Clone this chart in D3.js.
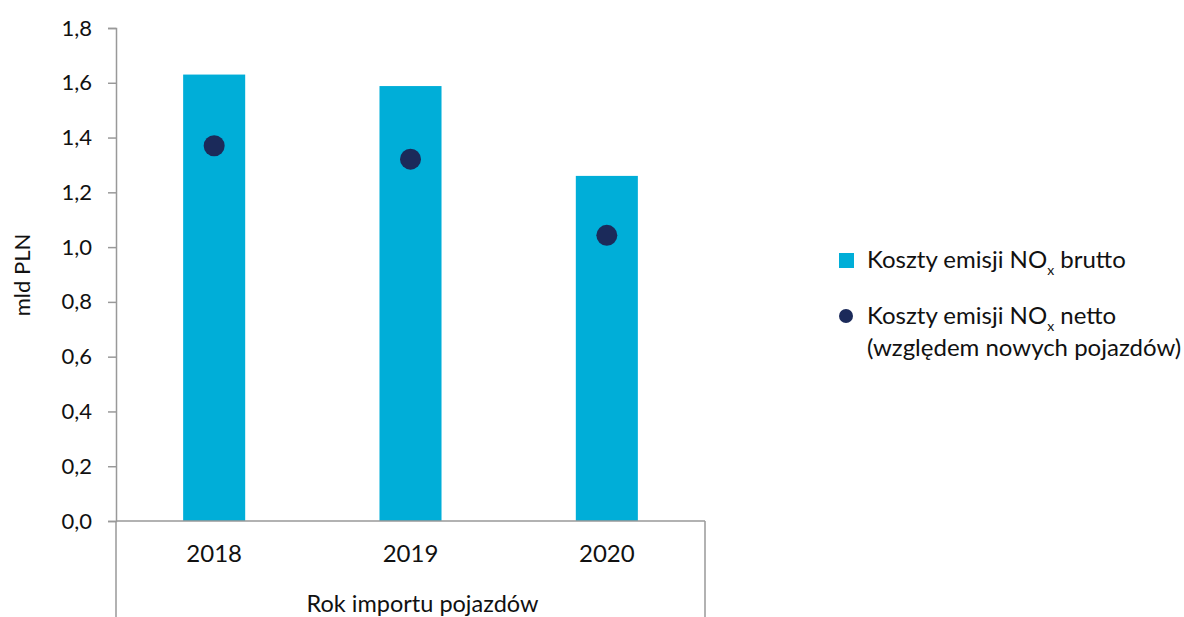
<!DOCTYPE html>
<html>
<head>
<meta charset="utf-8">
<script src="https://cdn.jsdelivr.net/npm/d3@7"></script>
<style>
  body { margin: 0; background: #fff; }
  text { font-family: Lato, "Open Sans", sans-serif; fill: #111; }
</style>
</head>
<body>
<div id="chart"></div>
<script>
var years = ["2018", "2019", "2020"];
var brutto = [1.63, 1.588, 1.26];
var netto = [1.37, 1.321, 1.043];
var yTicks = [0, 0.2, 0.4, 0.6, 0.8, 1.0, 1.2, 1.4, 1.6, 1.8];

var svgWidth = 1184, svgHeight = 617;
var margin = { top: 28, left: 116 };
var width = 589, height = 493;
var barColor = "#00aed8", dotColor = "#1b2a5a", axisColor = "#999";
var sansFont = "'Liberation Sans', Arial, sans-serif";

var svg = d3.select("#chart").append("svg")
    .attr("width", svgWidth)
    .attr("height", svgHeight);

var g = svg.append("g")
    .attr("transform", "translate(" + margin.left + "," + margin.top + ")");

var x = d3.scaleBand()
    .domain(years)
    .range([0, width])
    .paddingInner(0.684)
    .paddingOuter(0.342);

var y = d3.scaleLinear()
    .domain([0, 1.8])
    .range([height, 0]);

// Bars
g.selectAll("rect.bar")
    .data(years)
    .enter()
    .append("rect")
    .attr("class", "bar")
    .attr("x", function(d) { return x(d); })
    .attr("width", x.bandwidth())
    .attr("y", function(d, i) { return y(brutto[i]); })
    .attr("height", function(d, i) { return height - y(brutto[i]); })
    .attr("fill", barColor);

// Y axis
var yAxis = d3.axisLeft(y)
    .tickValues(yTicks)
    .tickSize(8)
    .tickPadding(16)
    .tickFormat(function(d) { return d3.format(".1f")(d).replace(".", ","); });

var yAxisGroup = g.append("g").call(yAxis);
yAxisGroup.select(".domain").attr("stroke", axisColor).attr("stroke-width", 1.5);
yAxisGroup.selectAll(".tick line").attr("stroke", axisColor).attr("stroke-width", 1.5);
yAxisGroup.selectAll(".tick text")
    .attr("font-size", "22px")
    .attr("font-family", sansFont)
    .attr("fill", "#111");

// X axis line and frame
g.append("line")
    .attr("x1", 0).attr("x2", width)
    .attr("y1", height).attr("y2", height)
    .attr("stroke", axisColor).attr("stroke-width", 1.5);
[0, width].forEach(function(px) {
    g.append("line")
        .attr("x1", px).attr("x2", px)
        .attr("y1", height).attr("y2", svgHeight)
        .attr("stroke", axisColor).attr("stroke-width", 1.5);
});

g.selectAll("text.year")
    .data(years)
    .enter()
    .append("text")
    .attr("class", "year")
    .attr("x", function(d) { return x(d) + x.bandwidth() / 2; })
    .attr("y", height + 41)
    .attr("text-anchor", "middle")
    .attr("font-size", "24px")
    .text(function(d) { return d; });

g.append("text")
    .attr("x", width / 2 + 12)
    .attr("y", height + 91)
    .attr("text-anchor", "middle")
    .attr("font-size", "23.5px")
    .text("Rok importu pojazdów");

// Dots
g.selectAll("circle.dot")
    .data(years)
    .enter()
    .append("circle")
    .attr("class", "dot")
    .attr("cx", function(d) { return x(d) + x.bandwidth() / 2; })
    .attr("cy", function(d, i) { return y(netto[i]); })
    .attr("r", 10.5)
    .attr("fill", dotColor);

// Y label
svg.append("text")
    .attr("transform", "translate(30," + 275 + ") rotate(-90)")
    .attr("text-anchor", "middle")
    .attr("font-size", "22px")
    .attr("font-family", sansFont)
    .text("mld PLN");

// Legend
var legend = svg.append("g").attr("transform", "translate(839,0)");
legend.append("rect")
    .attr("x", 0).attr("y", 253)
    .attr("width", 15).attr("height", 15)
    .attr("fill", barColor);
var t1 = legend.append("text").attr("x", 28).attr("y", 268).attr("font-size", "24px");
t1.append("tspan").text("Koszty emisji NO");
t1.append("tspan").attr("font-size", "14px").attr("dy", 7).text("x");
t1.append("tspan").attr("dy", -7).text(" brutto");

legend.append("circle")
    .attr("cx", 7).attr("cy", 316)
    .attr("r", 7)
    .attr("fill", dotColor);
var t2 = legend.append("text").attr("x", 28).attr("y", 324).attr("font-size", "24px");
t2.append("tspan").text("Koszty emisji NO");
t2.append("tspan").attr("font-size", "14px").attr("dy", 7).text("x");
t2.append("tspan").attr("dy", -7).text(" netto");
legend.append("text").attr("x", 28).attr("y", 356).attr("font-size", "24px")
    .text("(względem nowych pojazdów)");
</script>
</body>
</html>
